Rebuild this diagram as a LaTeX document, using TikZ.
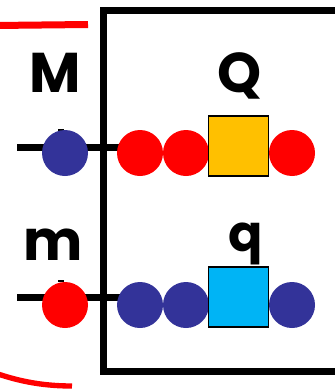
\documentclass[tikz,border=0pt]{standalone}
\usepackage{fontspec}
\setmainfont{Poppins}
\usepackage{tikz}
\definecolor{beadblue}{RGB}{51,51,153}
\definecolor{beadred}{RGB}{255,0,0}
\definecolor{tagyellow}{RGB}{255,192,0}
\definecolor{tagcyan}{RGB}{0,180,245}
\tikzset{
  bead/.style={circle, minimum size=34.5pt, inner sep=0pt},
  tagbox/.style={rectangle, draw=black, line width=0.9pt, minimum size=45pt, inner sep=0pt},
  lbl/.style={inner sep=0pt, anchor=base, font=\fontsize{42}{42}\selectfont\bfseries},
  heavy/.style={line width=5.25pt}
}
\begin{document}
\begin{tikzpicture}[x=0.75pt,y=0.75pt,yscale=-1,xscale=1]
\useasboundingbox (0,0) rectangle (335,389);
\clip (0,0) rectangle (335,389);

% red bracket
\draw [beadred, line width=5.25pt] (88,24.5) -- (-5,25.5) ;
\draw [beadred, line width=4pt] (-2,374) .. controls (22,382) and (45,386) .. (72,386) ;

% frame
\draw [heavy] (345,10) -- (103,10) -- (103,371) -- (345,371) ;

% top row
\coordinate (topL) at (17,147);
\coordinate (topR) at (120,147);
\draw [heavy] (topL) -- (topR) ;
\draw [line width=1.5pt] (58,130) -- (64,130) ;
\node [bead, fill=beadblue] (M1) at (65,153) {};
\node [bead, fill=beadred] (Q1) at (140,153) {};
\node [bead, fill=beadred] (Q2) at (186,153) {};
\node [tagbox, fill=tagyellow] (Qtag) at (238.5,146) {};
\node [bead, fill=beadred] (Q3) at (292,153) {};

% bottom row
\coordinate (botL) at (17,297);
\coordinate (botR) at (120,297);
\draw [heavy] (botL) -- (botR) ;
\draw [line width=1.5pt] (58,281) -- (64,281) ;
\node [bead, fill=beadred] (m1) at (65,305) {};
\node [bead, fill=beadblue] (q1) at (140,305) {};
\node [bead, fill=beadblue] (q2) at (186,305) {};
\node [tagbox, fill=tagcyan] (qtag) at (238.5,297) {};
\node [bead, fill=beadblue] (q3) at (292,305) {};

% Text Node
\node [lbl] (labM) at (55,92) {M};
\node [lbl] (labQ) at (240,92) {Q};
\node [lbl] (labm) at (53,260) {m};
\node [lbl, font=\fontsize{38}{38}\selectfont\bfseries] (labq) at (246,251) {q};

\end{tikzpicture}
\end{document}
